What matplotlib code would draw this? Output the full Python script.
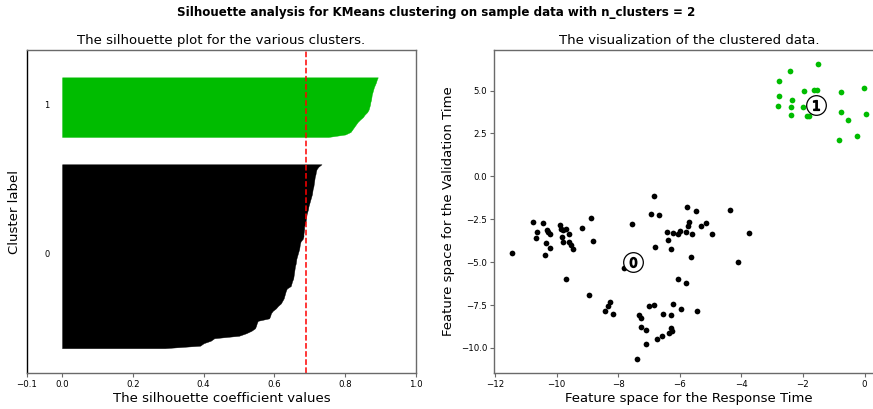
import matplotlib
matplotlib.use("Agg")
import matplotlib.pyplot as plt
import matplotlib.cm as cm
import numpy as np

# silhouette values per cluster (sorted)
sil_0 = [0.29, 0.39, 0.40, 0.42, 0.43, 0.50, 0.52, 0.535, 0.545, 0.548,
         0.550, 0.553, 0.585, 0.588, 0.590, 0.595, 0.604, 0.610, 0.618, 0.622,
         0.626, 0.628, 0.630, 0.632, 0.635, 0.646, 0.648, 0.650, 0.653, 0.654,
         0.655, 0.656, 0.657, 0.658, 0.660, 0.661, 0.662, 0.664, 0.666, 0.668,
         0.670, 0.671, 0.672, 0.674, 0.680, 0.682, 0.682, 0.683, 0.684, 0.684,
         0.686, 0.688, 0.689, 0.690, 0.691, 0.693, 0.695, 0.696, 0.698, 0.700,
         0.702, 0.704, 0.706, 0.707, 0.708, 0.710, 0.711, 0.712, 0.713, 0.714,
         0.716, 0.717, 0.719, 0.724, 0.733]
sil_1 = [0.752, 0.800, 0.815, 0.820, 0.825, 0.830, 0.835, 0.842, 0.850, 0.855,
         0.862, 0.866, 0.868, 0.870, 0.871, 0.873, 0.874, 0.875, 0.877, 0.879,
         0.881, 0.884, 0.887, 0.889, 0.892]
silhouette_avg = 0.69
n_clusters = 2

# points of cluster 0 (response time, validation time)
x0 = [-10.75, -10.44, -10.62, -10.67, -10.31, -10.27, -10.21, -10.33, -10.21, -10.38,
      -9.88, -9.84, -9.78, -9.70, -9.81, -9.80, -9.60, -9.58, -9.52, -9.48,
      -9.68, -9.16, -8.87, -8.81, -8.93, -8.44, -8.32, -8.27, -8.17, -7.82,
      -7.56, -7.32, -7.25, -7.25, -7.10, -7.38, -7.11, -7.00, -6.84, -6.93,
      -6.85, -6.68, -6.80, -6.40, -6.39, -6.23, -6.27, -6.05, -5.99, -5.81,
      -5.60, -5.73, -5.70, -5.78, -5.47, -5.30, -5.14, -4.95, -4.38, -3.76,
      -4.10, -5.62, -6.05, -5.81, -6.21, -5.95, -5.45, -6.55, -6.29, -6.29,
      -6.24, -6.34, -6.56, -6.73, -11.44]
y0 = [-2.69, -2.73, -3.26, -3.57, -3.10, -3.22, -3.35, -3.90, -4.15, -4.59,
      -2.81, -3.06, -3.10, -3.06, -3.53, -3.82, -3.35, -3.84, -4.03, -4.26,
      -5.97, -3.02, -2.42, -3.76, -6.94, -7.85, -7.58, -7.31, -8.00, -5.37,
      -2.77, -8.10, -8.24, -8.76, -8.95, -10.62, -9.79, -7.56, -7.48, -2.17,
      -1.12, -2.25, -4.09, -3.22, -3.70, -3.31, -4.21, -3.39, -3.16, -3.22,
      -3.39, -2.87, -2.67, -1.78, -2.03, -2.87, -2.71, -3.35, -1.96, -3.31,
      -4.98, -4.71, -5.97, -6.20, -7.42, -7.75, -7.83, -8.02, -8.10, -8.82,
      -9.03, -9.11, -9.32, -9.50, -4.46]

# points of cluster 1
x1 = [-2.78, -2.43, -1.50, -2.79, -2.36, -2.82, -2.38, -2.38, -1.96, -1.64,
      -1.54, -2.00, -1.88, -1.79, -0.78, -0.03, -0.78, -0.55, 0.06, -0.82, -0.24]
y1 = [5.58, 6.12, 6.53, 4.67, 4.42, 4.07, 4.03, 3.57, 4.96, 5.02,
      5.04, 4.03, 3.53, 3.49, 4.92, 5.16, 3.74, 3.31, 3.66, 2.11, 2.34]

# cluster centers
centers_x = [-7.53, -1.57]
centers_y = [-5.00, 4.17]

sil_values = [sil_0, sil_1]
xs = [x0, x1]
ys = [y0, y1]
n_samples = len(sil_0) + len(sil_1)

W, H = 873, 409
fig = plt.figure(figsize=(W / 100, H / 100), dpi=100)
ax1 = fig.add_axes([26.7 / W, 36 / H, 389.3 / W, 323 / H])
ax2 = fig.add_axes([494.3 / W, 36 / H, 390 / W, 323 / H])

spine_col = '#6a6a6a'
for ax in (ax1, ax2):
    for s in ax.spines.values():
        s.set_color(spine_col)
        s.set_linewidth(1.0)
    ax.tick_params(labelsize=6.2, length=3, width=0.8, color=spine_col, pad=2)
ax1.spines['left'].set_color('black')

# left: silhouette plot
y_lower = 10
for i in range(n_clusters):
    vals = np.sort(np.array(sil_values[i]))
    size_i = len(vals)
    y_upper = y_lower + size_i
    color = cm.nipy_spectral(float(i) / n_clusters)
    ax1.fill_betweenx(np.arange(y_lower, y_upper), 0, vals,
                      facecolor=color, edgecolor=color, lw=0.3)
    ax1.text(-0.05, y_lower + 0.5 * size_i, str(i), fontsize=6, va='center')
    y_lower = y_upper + 10

ax1.axvline(x=silhouette_avg, color='red', linestyle='--', lw=1.1)
ax1.set_xlim([-0.1, 1])
ax1.set_ylim([0, n_samples + (n_clusters + 1) * 10])
ax1.set_yticks([])
ax1.set_xticks([-0.1, 0, 0.2, 0.4, 0.6, 0.8, 1])
ax1.set_title('The silhouette plot for the various clusters.', fontsize=9.5, pad=4)
ax1.set_xlabel('The silhouette coefficient values', fontsize=9.5, labelpad=2)
ax1.set_ylabel('Cluster label', fontsize=9.5, labelpad=4)

# right: clustered data
for i in range(n_clusters):
    ax2.scatter(xs[i], ys[i], marker='o', s=17, lw=0,
                c=[cm.nipy_spectral(float(i) / n_clusters)])
ax2.scatter(centers_x, centers_y, marker='o', c='white', alpha=1, s=200, edgecolor='k', lw=0.9)
for i in range(n_clusters):
    ax2.scatter(centers_x[i], centers_y[i], marker='$%d$' % i, alpha=1, s=50,
                edgecolor='k', c='k')
ax2.set_xlim(-12.02, 0.64)
ax2.set_ylim(-11.46, 7.36)
ax2.set_xticks([-12, -10, -8, -6, -4, -2, 0])
ax2.set_yticks([-10, -7.5, -5, -2.5, 0, 2.5, 5])
ax2.set_title('The visualization of the clustered data.', fontsize=9.5, pad=4)
ax2.set_xlabel('Feature space for the Response Time', fontsize=9.5, labelpad=2)
ax2.set_ylabel('Feature space for the Validation Time', fontsize=9.5, labelpad=4)

fig.suptitle('Silhouette analysis for KMeans clustering on sample data with n_clusters = %d'
             % n_clusters, fontsize=8.6, fontweight='bold', y=0.985)

fig.savefig('out.png', dpi=100)
